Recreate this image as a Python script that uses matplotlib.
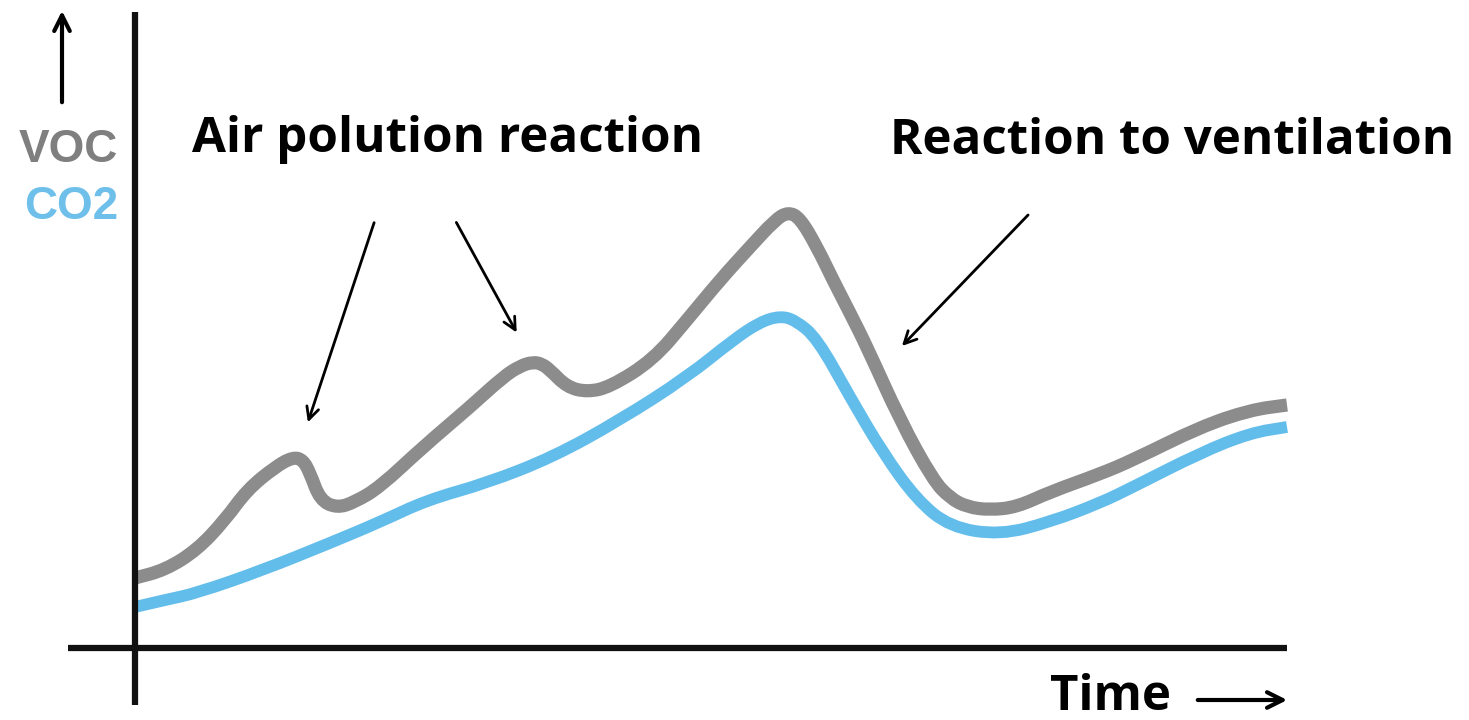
import matplotlib.pyplot as plt
from matplotlib.path import Path
from matplotlib.patches import PathPatch

# time / level (arbitrary units, origin at the axis cross)
voc_t = [0, 30, 62, 90, 112, 140, 158, 168, 175, 185, 202, 220, 245, 288, 335, 368, 385,
         398, 407, 415, 432, 452, 475, 518, 552, 585, 615, 640, 653, 665, 682, 698, 715,
         732, 765, 798, 815, 832, 855, 882, 915, 965, 998, 1065, 1115, 1152]
voc_v = [70, 78, 98, 128, 158, 181, 191, 188, 175, 148, 140, 146, 161, 201, 241, 271, 282,
         286, 284, 278, 261, 256, 261, 288, 328, 368, 401, 428, 436, 430, 401, 368, 335,
         301, 228, 168, 150, 141, 138, 141, 156, 174, 188, 221, 238, 243]

co2_t = [0, 30, 62, 128, 195, 245, 292, 352, 418, 485, 552, 598, 625, 645, 660, 682,
         715, 748, 782, 815, 865, 915, 965, 998, 1065, 1115, 1152]
co2_v = [41, 48, 55, 78, 105, 126, 148, 165, 191, 228, 271, 308, 326, 332, 328, 310,
         251, 195, 148, 121, 113, 126, 145, 161, 195, 215, 221]

voc_color = '#8c8c8c'
co2_color = '#63bdeb'


def smooth_line(ax, xs, ys, color, lw):
    # quadratic bezier through the midpoints, points act as control points
    pts = list(zip(xs, ys))
    verts = [pts[0], ((pts[0][0] + pts[1][0]) / 2, (pts[0][1] + pts[1][1]) / 2)]
    codes = [Path.MOVETO, Path.LINETO]
    for i in range(1, len(pts) - 1):
        mid = ((pts[i][0] + pts[i + 1][0]) / 2, (pts[i][1] + pts[i + 1][1]) / 2)
        verts += [pts[i], mid]
        codes += [Path.CURVE3, Path.CURVE3]
    verts.append(pts[-1])
    codes.append(Path.LINETO)
    patch = PathPatch(Path(verts, codes), facecolor='none', edgecolor=color, lw=lw,
                      capstyle='butt', joinstyle='round')
    ax.add_patch(patch)


fig = plt.figure(figsize=(14.69, 7.2), dpi=100)
ax = fig.add_axes([0, 0, 1, 1])
ax.set_xlim(-135, 1334)
ax.set_ylim(-72, 648)
ax.axis('off')

# axes cross
ax.plot([0, 0], [-57, 636], color='#111111', lw=4.5, solid_capstyle='butt')
ax.plot([-67, 1152], [0, 0], color='#111111', lw=4.5, solid_capstyle='butt')

smooth_line(ax, co2_t, co2_v, co2_color, 8.5)
smooth_line(ax, voc_t, voc_v, voc_color, 9.5)

arr = dict(arrowstyle='->', color='black', lw=2, mutation_scale=22)
big = dict(arrowstyle='->', color='black', lw=3, mutation_scale=28)
ax.annotate('', xy=(-73, 640), xytext=(-73, 543), arrowprops=big)
ax.annotate('', xy=(1155, -52), xytext=(1060, -52), arrowprops=big)
ax.annotate('', xy=(172, 223), xytext=(240, 428), arrowprops=arr)
ax.annotate('', xy=(383, 313), xytext=(320, 428), arrowprops=arr)
ax.annotate('', xy=(765, 300), xytext=(895, 435), arrowprops=arr)

ax.text(-17, 498, 'VOC', color='#7f7f7f', fontsize=33, fontweight='bold',
        family='Liberation Sans', ha='right', va='center')
ax.text(-17, 441, 'CO2', color='#6ec0ea', fontsize=33, fontweight='bold',
        family='Liberation Sans', ha='right', va='center')

ax.text(57, 508, 'Air polution reaction', fontsize=35.5, fontweight='bold',
        family='Open Sans', ha='left', va='center')
ax.text(755, 507, 'Reaction to ventilation', fontsize=35.5, fontweight='bold',
        family='Open Sans', ha='left', va='center')
ax.text(915, -49, 'Time', fontsize=35.5, fontweight='bold',
        family='Open Sans', ha='left', va='center')

fig.savefig('out.png', dpi=100, facecolor='white')
